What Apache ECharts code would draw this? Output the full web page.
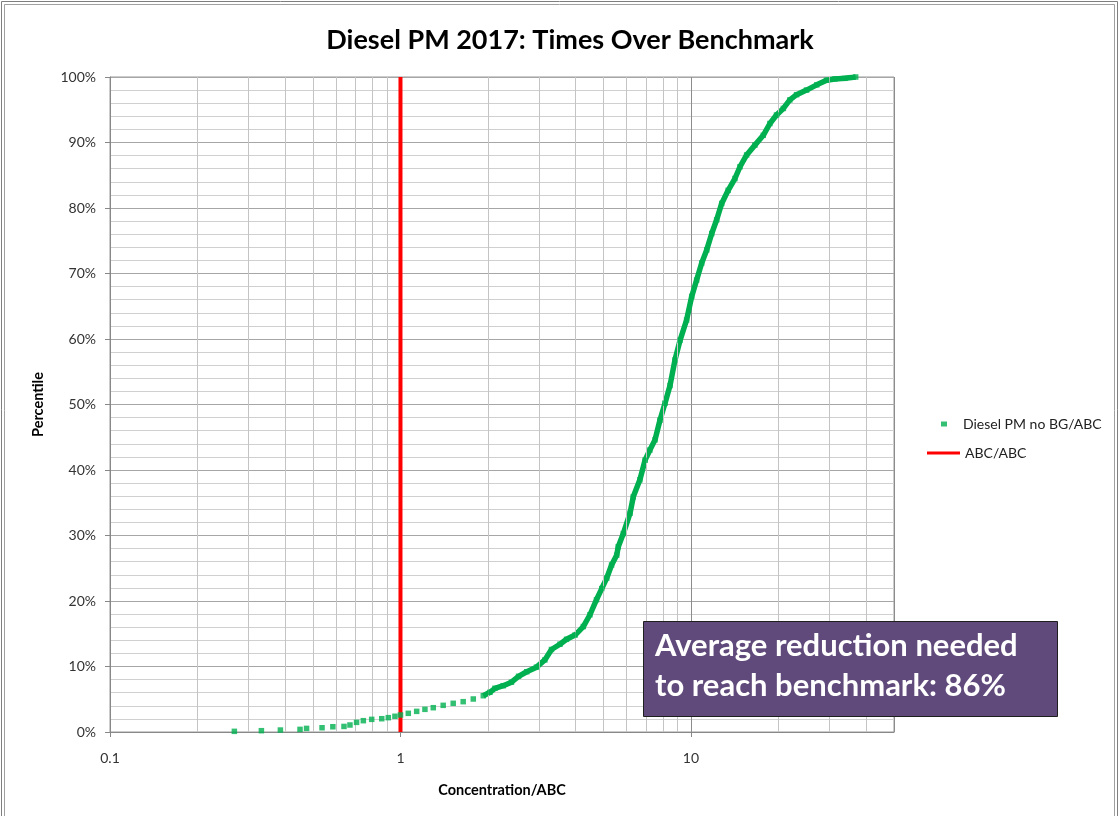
<!DOCTYPE html>
<html>
<head>
<meta charset="utf-8">
<script src="https://cdn.jsdelivr.net/npm/echarts@6/dist/echarts.min.js"></script>
<style>html,body{margin:0;padding:0;background:#fff}#c{width:1119px;height:816px}</style>
</head>
<body>
<div id="c"></div>
<script>
// Concentration/ABC (x) and cumulative percentile (y, %)
const concentration = [0.268,0.332,0.386,0.451,0.475,0.537,0.585,0.639,0.670,0.706,0.745,0.796,0.862,0.908,0.957,1.00,1.064,1.137,1.214,1.297,1.403,1.519,1.644,1.781,1.928,2.032,2.114,2.258,2.41,2.55,2.72,2.94,3.14,3.31,3.54,3.73,3.99,4.26,4.49,4.73,4.93,5.13,5.33,5.55,5.62,5.85,6.17,6.33,6.67,6.95,7.22,7.52,7.82,8.14,8.47,8.81,9.17,9.66,10.06,10.46,10.89,11.33,11.79,12.26,12.76,13.43,14.17,14.75,15.55,16.6,17.74,18.7,19.7,20.8,21.9,23.1,25.0,27.1,29.3,31.3,33.9,36.9];
const percentile = [0.10,0.20,0.30,0.40,0.55,0.65,0.80,0.85,1.07,1.47,1.73,1.93,2.03,2.19,2.40,2.60,2.85,3.15,3.46,3.71,4.07,4.38,4.63,5.04,5.54,6.06,6.67,7.07,7.6,8.5,9.2,9.9,11.0,12.6,13.4,14.15,14.8,16.1,17.9,20.2,21.9,23.5,25.5,27.0,28.3,30.3,33.4,35.9,38.5,41.5,43.05,44.6,47.6,50.2,52.9,56.8,59.8,62.9,66.5,69.0,71.6,73.6,76.1,78.2,80.7,82.7,84.5,86.3,88.1,89.6,91.1,92.9,94.2,95.2,96.5,97.3,98.0,98.8,99.5,99.7,99.8,100];
const benchmarkX = [1, 1];
const benchmarkY = [0, 100];
const minorGridX = [0.2,0.3,0.4,0.5,0.6,0.7,0.8,0.9,2,3,4,5,6,7,8,9,20,30,40];
const seriesNames = ['Diesel PM no BG/ABC', 'ABC/ABC'];
const titleText = 'Diesel PM 2017: Times Over Benchmark';
const noteLines = ['Average reduction needed', 'to reach benchmark: 86%'];

const pts = concentration.map((x, i) => [x, percentile[i] / 100]);
const densePts = pts.filter(p => p[0] >= 1.9);
const benchPts = benchmarkX.map((x, i) => [x, benchmarkY[i] / 100]);

const FONT = 'Lato, "Open Sans", sans-serif';
const chart = echarts.init(document.getElementById('c'), null, {renderer: 'canvas'});
chart.setOption({
  animation: false,
  backgroundColor: '#fff',
  title: {
    text: titleText, left: 565, top: 22, textAlign: 'center',
    textStyle: {fontFamily: FONT, fontWeight: 'bold', fontSize: 27, color: '#000'}
  },
  grid: {left: 110, right: 225, top: 77, bottom: 84, show: true, borderColor: '#999', borderWidth: 1, backgroundColor: 'transparent'},
  legend: [
    {data: [{name: seriesNames[0], icon: 'rect'}], left: 936, top: 412, itemWidth: 6, itemHeight: 5,
     textStyle: {fontFamily: FONT, fontSize: 14, color: '#222', padding: [0, 0, 0, 11]}, selectedMode: false},
    {data: [{name: seriesNames[1], icon: 'rect'}], left: 922, top: 441, itemWidth: 33, itemHeight: 3,
     textStyle: {fontFamily: FONT, fontSize: 14, color: '#222'}, selectedMode: false}
  ],
  xAxis: {
    type: 'log', logBase: 10, min: 0.1, max: 50,
    name: 'Concentration/ABC', nameLocation: 'middle', nameGap: 51,
    nameTextStyle: {fontFamily: FONT, fontWeight: 'bold', fontSize: 14.5, color: '#000'},
    axisLine: {show: true, lineStyle: {color: '#888'}},
    axisTick: {show: true, inside: false, length: 5, lineStyle: {color: '#888'}},
    axisLabel: {fontFamily: FONT, fontSize: 14, color: '#333', margin: 19, showMaxLabel: false,
      formatter: v => String(v)},
    splitLine: {show: true, lineStyle: {color: '#8c8c8c', width: 1}}
  },
  yAxis: {
    type: 'value', min: 0, max: 1, interval: 0.1,
    name: 'Percentile', nameLocation: 'middle', nameGap: 64, nameRotate: 90,
    nameTextStyle: {fontFamily: FONT, fontWeight: 'bold', fontSize: 14.5, color: '#000'},
    axisLine: {show: true, lineStyle: {color: '#888'}},
    axisTick: {show: true, length: 5, lineStyle: {color: '#888'}},
    axisLabel: {fontFamily: FONT, fontSize: 14, color: '#333', margin: 14,
      formatter: v => Math.round(v * 100) + '%'},
    splitLine: {show: true, lineStyle: {color: '#a6a6a6', width: 1}},
    minorTick: {show: false, splitNumber: 5},
    minorSplitLine: {show: true, lineStyle: {color: '#d0d0d0', width: 1}}
  },
  series: [
    {
      name: 'minor-grid', type: 'line', data: [], z: 1, silent: true,
      markLine: {
        silent: true, symbol: ['none', 'none'], animation: false,
        label: {show: false},
        lineStyle: {color: '#c4c4c4', width: 1, type: 'solid'},
        emphasis: {disabled: true},
        data: minorGridX.map(v => ({xAxis: v}))
      }
    },
    {
      name: seriesNames[1], type: 'line', data: benchPts, z: 3,
      symbol: 'none', lineStyle: {color: '#ff0000', width: 4}, itemStyle: {color: '#ff0000'}
    },
    {
      name: seriesNames[0], type: 'scatter', data: pts, z: 5,
      symbol: 'rect', symbolSize: 5.5, itemStyle: {color: '#00b050'}
    },
    {
      name: seriesNames[0], type: 'line', data: densePts, z: 4,
      symbol: 'none', lineStyle: {color: '#00b050', width: 5.5}, itemStyle: {color: '#00b050'}
    }
  ],
  graphic: [
    {type: 'rect', shape: {x: 1.5, y: 1.5, width: 1116, height: 830}, style: {fill: 'none', stroke: '#7f7f7f', lineWidth: 1}, silent: true},
    {type: 'rect', shape: {x: 4.5, y: 4.5, width: 1110, height: 830}, style: {fill: 'none', stroke: '#a0a0a0', lineWidth: 1}, silent: true},
    {type: 'rect', z: 100, shape: {x: 643.5, y: 621.5, width: 414, height: 95}, style: {fill: '#604a7b', stroke: '#1f1f1f', lineWidth: 1}},
    {type: 'text', z: 101, left: 655, top: 630, style: {text: noteLines[0], fill: '#fff', font: 'bold 31px ' + FONT}},
    {type: 'text', z: 101, left: 655, top: 670, style: {text: noteLines[1], fill: '#fff', font: 'bold 31px ' + FONT}}
  ]
});
</script>
</body>
</html>
